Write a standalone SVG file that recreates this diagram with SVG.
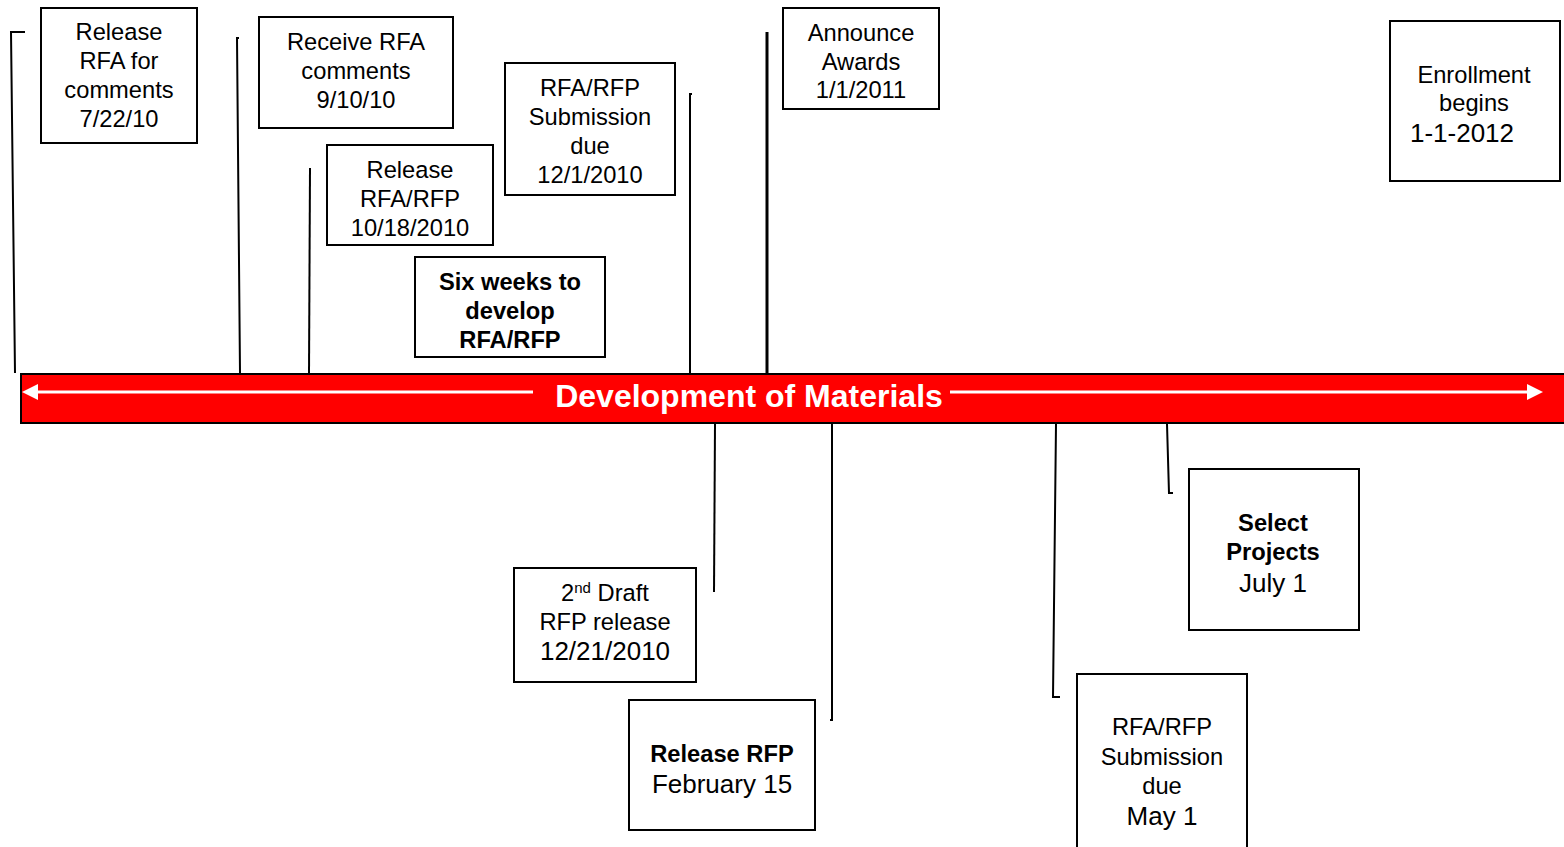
<svg xmlns="http://www.w3.org/2000/svg" width="1564" height="847" viewBox="0 0 1564 847">
<style>
.box{fill:#fff;stroke:#000;stroke-width:2}
.t{font-family:"Liberation Sans",Arial,sans-serif;font-size:23.7px;fill:#000;text-anchor:middle}
.b{font-weight:bold}
.lg{font-size:26px}
.ln{fill:none;stroke:#000;stroke-width:2}
</style>
<rect width="1564" height="847" fill="#fff"/>
<g id="connectors">
<polyline class="ln" points="25,32 11,32 15,373"/>
<polyline class="ln" points="239,38 237,38 240,373"/>
<line class="ln" x1="310" y1="168" x2="309" y2="373"/>
<polyline class="ln" points="692,94 690,94 690,373"/>
<line x1="767" y1="32" x2="767" y2="373" stroke="#000" stroke-width="3"/>
<line class="ln" x1="715" y1="424" x2="714" y2="592"/>
<polyline class="ln" points="832,424 832,720 830,720"/>
<polyline class="ln" points="1056,424 1053,697 1060,697"/>
<polyline class="ln" points="1167,424 1169,493 1173,493"/>
</g>
<g id="timeline">
<rect x="21" y="374" width="1545" height="49" fill="#ff0000" stroke="#000" stroke-width="2"/>
<line x1="32" y1="392" x2="533" y2="392" stroke="#fff" stroke-width="3"/>
<line x1="950" y1="392" x2="1530" y2="392" stroke="#fff" stroke-width="3"/>
<polygon points="22,392 38,384 38,400" fill="#fff"/>
<polygon points="1543,392 1527,384 1527,400" fill="#fff"/>
<text x="749" y="407" font-family="Liberation Sans,Arial,sans-serif" font-size="32" font-weight="bold" fill="#fff" text-anchor="middle">Development of Materials</text>
</g>
<g id="n1"><rect class="box" x="41" y="8" width="156" height="135"/>
<text class="t" x="119" y="40">Release</text><text class="t" x="119" y="69">RFA for</text><text class="t" x="119" y="98">comments</text><text class="t" x="119" y="127">7/22/10</text></g>
<g id="n2"><rect class="box" x="259" y="17" width="194" height="111"/>
<text class="t" x="356" y="50">Receive RFA</text><text class="t" x="356" y="79">comments</text><text class="t" x="356" y="108">9/10/10</text></g>
<g id="n3"><rect class="box" x="327" y="145" width="166" height="100"/>
<text class="t" x="410" y="178">Release</text><text class="t" x="410" y="207">RFA/RFP</text><text class="t" x="410" y="236">10/18/2010</text></g>
<g id="n4"><rect class="box" x="505" y="63" width="170" height="132"/>
<text class="t" x="590" y="96">RFA/RFP</text><text class="t" x="590" y="125">Submission</text><text class="t" x="590" y="154">due</text><text class="t" x="590" y="183">12/1/2010</text></g>
<g id="n5"><rect class="box" x="415" y="257" width="190" height="100"/>
<text class="t b" x="510" y="290">Six weeks to</text><text class="t b" x="510" y="319">develop</text><text class="t b" x="510" y="348">RFA/RFP</text></g>
<g id="n6"><rect class="box" x="783" y="8" width="156" height="101"/>
<text class="t" x="861" y="41">Announce</text><text class="t" x="861" y="70">Awards</text><text class="t" x="861" y="98">1/1/2011</text></g>
<g id="n7"><rect class="box" x="1390" y="21" width="170" height="160"/>
<text class="t" x="1474" y="83">Enrollment</text><text class="t" x="1474" y="111">begins</text><text class="t lg" x="1462" y="142">1-1-2012</text></g>
<g id="n8"><rect class="box" x="514" y="568" width="182" height="114"/>
<text class="t" x="605" y="601">2<tspan font-size="15" dy="-8">nd</tspan><tspan dy="8"> Draft</tspan></text><text class="t" x="605" y="630">RFP release</text><text class="t lg" x="605" y="660">12/21/2010</text></g>
<g id="n9"><rect class="box" x="629" y="700" width="186" height="130"/>
<text class="t b" x="722" y="762">Release RFP</text><text class="t lg" x="722" y="793">February 15</text></g>
<g id="n10"><rect class="box" x="1189" y="469" width="170" height="161"/>
<text class="t b" x="1273" y="531">Select</text><text class="t b" x="1273" y="560">Projects</text><text class="t lg" x="1273" y="592">July 1</text></g>
<g id="n11"><rect class="box" x="1077" y="674" width="170" height="180"/>
<text class="t" x="1162" y="735">RFA/RFP</text><text class="t" x="1162" y="765">Submission</text><text class="t" x="1162" y="794">due</text><text class="t lg" x="1162" y="825">May 1</text></g>
</svg>
